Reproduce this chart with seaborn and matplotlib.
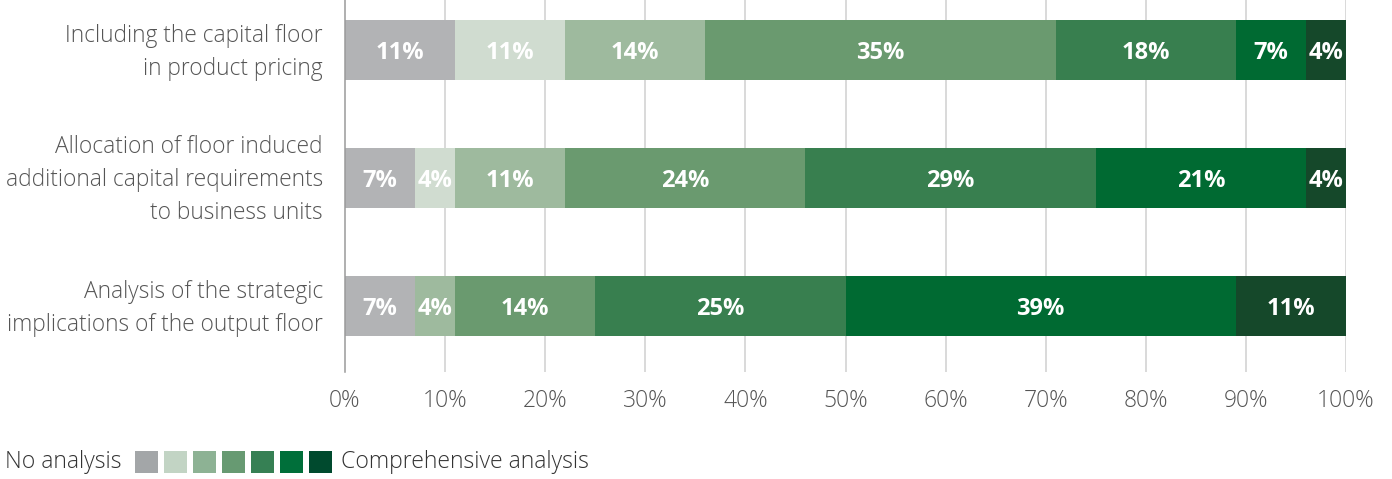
import matplotlib
matplotlib.use("Agg")
import matplotlib.pyplot as plt
import matplotlib.transforms as mtransforms
from matplotlib.patches import Rectangle
import numpy as np
import pandas as pd
import seaborn as sns

# Survey items (rows) and share of answers per analysis level, in percent
items = [
    "Including the capital floor\nin product pricing",
    "Allocation of floor induced\nadditional capital requirements\nto business units",
    "Analysis of the strategic\nimplications of the output floor",
]
level_1 = [11, 7, 7]    # No analysis
level_2 = [11, 4, 0]
level_3 = [14, 11, 4]
level_4 = [35, 24, 14]
level_5 = [18, 29, 25]
level_6 = [7, 21, 39]
level_7 = [4, 4, 11]    # Comprehensive analysis
levels = [level_1, level_2, level_3, level_4, level_5, level_6, level_7]

tick_values = [0, 10, 20, 30, 40, 50, 60, 70, 80, 90, 100]
tick_labels = [f"{v}%" for v in tick_values]
legend_left = "No analysis"
legend_right = "Comprehensive analysis"

bar_colors = ["#b2b3b5", "#d0dcd0", "#9eba9e", "#6a9a6f", "#387f4f", "#006a32", "#15482a"]
key_colors = ["#a3a6a8", "#c2d4c4", "#8db294", "#679a72", "#368054", "#006f3a", "#004a2e"]

sns.set_theme(style="white")
plt.rcParams["font.family"] = ["Open Sans", "DejaVu Sans"]

fig = plt.figure(figsize=(13.92, 4.79), dpi=100)
ax = fig.add_axes([345 / 1392, 1 - 372 / 479, 1001 / 1392, 372 / 479])

# Stacked bars: draw cumulative totals from the widest down, each covering the previous
seg = np.array(levels, dtype=float)           # shape (levels, items)
cum = np.cumsum(seg, axis=0)
for k in range(len(levels) - 1, -1, -1):
    df = pd.DataFrame({"item": items, "value": cum[k]})
    sns.barplot(data=df, x="value", y="item", orient="h", color=bar_colors[k],
                saturation=1, width=0.47, ax=ax, zorder=2, linewidth=0)

# Value labels centred in each segment
for k in range(len(levels)):
    for i in range(len(items)):
        v = seg[k, i]
        if v <= 0:
            continue
        start = cum[k, i] - v
        ax.text(start + v / 2, i, f"{int(v)}%", ha="center", va="center_baseline",
                color="white", fontsize=17, fontweight="bold", zorder=3)

ax.set_xlim(0, 100)
ax.set_ylim(2.516, -0.39)
ax.set_xticks(tick_values)
ax.set_xticklabels(tick_labels)
ax.set_xlabel("")
ax.set_ylabel("")

for v in tick_values[1:]:
    ax.axvline(v, color="#cfcfcf", linewidth=1.1, zorder=0)
for s in ["top", "right", "bottom"]:
    ax.spines[s].set_visible(False)
ax.spines["left"].set_color("#9a9a9a")
ax.spines["left"].set_linewidth(1.1)

ax.tick_params(axis="x", length=0, pad=12, labelsize=16.5, labelcolor="#555555")
ax.tick_params(axis="y", length=0, pad=16, labelsize=16.4, labelcolor="#555555")
for lbl in ax.get_xticklabels() + ax.get_yticklabels():
    lbl.set_fontweight("light")
lift = mtransforms.ScaledTranslation(0, 5 / 100, fig.dpi_scale_trans)
for lbl in ax.get_yticklabels():
    lbl.set_linespacing(1.5)
    lbl.set_horizontalalignment("right")
    lbl.set_transform(lbl.get_transform() + lift)

# Colour key along the bottom
fig.text(5 / 1392, 1 - 462 / 479, legend_left, ha="left", va="center",
         fontsize=16.6, fontweight="light", color="#333333")
for k, c in enumerate(key_colors):
    x0 = (135 + 29 * k) / 1392
    fig.patches.append(Rectangle((x0, 1 - 473 / 479), 23 / 1392, 22 / 479,
                                 transform=fig.transFigure, facecolor=c,
                                 edgecolor="none"))
fig.text(341 / 1392, 1 - 462 / 479, legend_right, ha="left", va="center",
         fontsize=16.6, fontweight="light", color="#333333")

fig.savefig("out.png", dpi=100)
